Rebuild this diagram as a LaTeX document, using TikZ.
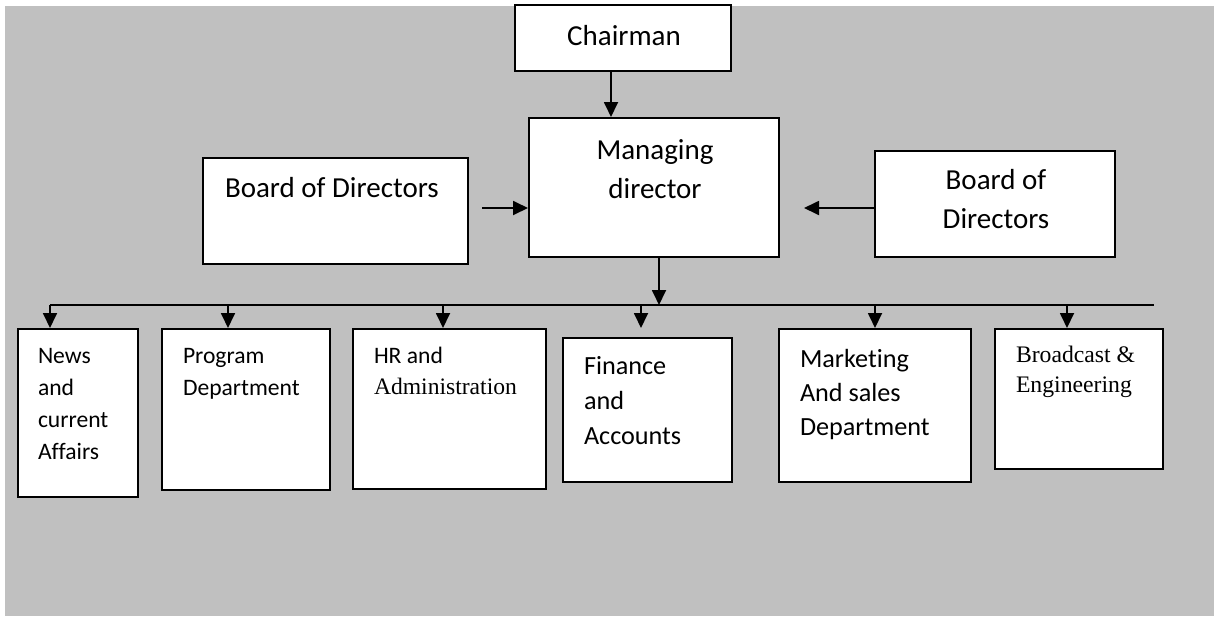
\documentclass[tikz,border=0pt]{standalone}
\usepackage{fontspec}
\setmainfont{Carlito}[Ligatures=NoCommon]
\newfontfamily\tms{Liberation Serif}[Ligatures=NoCommon]
\usetikzlibrary{arrows.meta}
\definecolor{bgc}{RGB}{192,192,192}
\newcommand\cln[1]{\hbox to 0pt{\hss #1\hss}}
\newcommand\lnl[1]{\hbox{#1}}
\tikzset{
  box/.style={draw=black, line width=1pt, fill=white, inner sep=0pt, rectangle},
  txt/.style={anchor=base west, inner sep=0pt, outer sep=0pt},
  arr/.style={line width=0.9pt, -{Triangle[length=7.5pt,width=7pt]}},
  ln/.style={line width=0.9pt},
  big/.style={font=\fontsize{14.5}{19.5}\selectfont},
  small/.style={font=\fontsize{11.8}{16}\selectfont},
}
\begin{document}
\begin{tikzpicture}[x=0.5pt,y=-0.5pt]
\useasboundingbox (0,0) rectangle (1214,616);
\fill[bgc] (5,6) rectangle (1214,616);

% boxes
\node[box, minimum width=108pt, minimum height=33pt] (chair) at (623,38) {};
\node[box, minimum width=125pt, minimum height=69.5pt] (md) at (654,187.5) {};
\node[box, minimum width=132.5pt, minimum height=53pt] (bodl) at (335.5,211) {};
\node[box, minimum width=120pt, minimum height=53pt] (bodr) at (995,204) {};
\node[box, minimum width=60pt, minimum height=84pt] (news) at (78,413) {};
\node[box, minimum width=84pt, minimum height=80.5pt] (prog) at (246,409.5) {};
\node[box, minimum width=96.5pt, minimum height=80pt] (hr) at (449.5,409) {};
\node[box, minimum width=84.5pt, minimum height=72pt] (fin) at (647.5,410) {};
\node[box, minimum width=96pt, minimum height=76.5pt] (mkt) at (875,405.5) {};
\node[box, minimum width=84pt, minimum height=70pt] (brd) at (1079,399) {};

% texts
\node[txt, big] (tchair) at (623,45) {\cln{Chairman}};
\node[txt, big] (tmd) at (654,159) {\vtop{\cln{Managing}\cln{director}}};
\node[txt, big] (tbodl) at (225,197) {Board of Directors};
\node[txt, big] (tbodr) at (995,189) {\vtop{\cln{Board of}\cln{Directors}}};
\node[txt, small] (tnews) at (38,363) {\vtop{\lnl{News}\lnl{and}\lnl{current}\lnl{Affairs}}};
\node[txt, small] (tprog) at (183,363) {\vtop{\lnl{Program}\lnl{Department}}};
\node[txt, font=\fontsize{11.8}{15.5}\selectfont] (thr) at (374,363) {\vtop{\lnl{HR and}\lnl{\tms Administration}}};
\node[txt, font=\fontsize{13.1}{17.5}\selectfont] (tfin) at (584,374) {\vtop{\lnl{Finance}\lnl{and}\lnl{Accounts}}};
\node[txt, font=\fontsize{13.1}{17}\selectfont] (tmkt) at (800,367) {\vtop{\lnl{Marketing}\lnl{And sales}\lnl{Department}}};
\node[txt, font=\tms\fontsize{11.85}{15}\selectfont] (tbrd) at (1016,362) {\vtop{\lnl{Broadcast \&}\lnl{Engineering}}};

% connectors
\coordinate (cm) at (611,0);
\draw[arr] (cm |- chair.south) -- (cm |- md.north);
\coordinate (la) at (482,208);
\draw[arr] (la) -- (la -| md.west);
\coordinate (ra) at (804,208);
\draw[arr] (ra -| bodr.west) -- (ra);

\coordinate (busL) at (50,305);
\coordinate (busR) at (1154,305);
\coordinate (busM) at (659,305);
\draw[ln] (busL) -- (busR);
\draw[arr] (busM |- md.south) -- (busM);

\coordinate (b1) at (50,305);
\coordinate (b2) at (228,305);
\coordinate (b3) at (443,305);
\coordinate (b4) at (641,305);
\coordinate (b5) at (875,305);
\coordinate (b6) at (1067,305);
\draw[arr] (b1) -- (b1 |- news.north);
\draw[arr] (b2) -- (b2 |- prog.north);
\draw[arr] (b3) -- (b3 |- hr.north);
\draw[arr] (b4) -- (b4 |- news.north);
\draw[arr] (b5) -- (b5 |- mkt.north);
\draw[arr] (b6) -- (b6 |- brd.north);
\end{tikzpicture}
\end{document}
